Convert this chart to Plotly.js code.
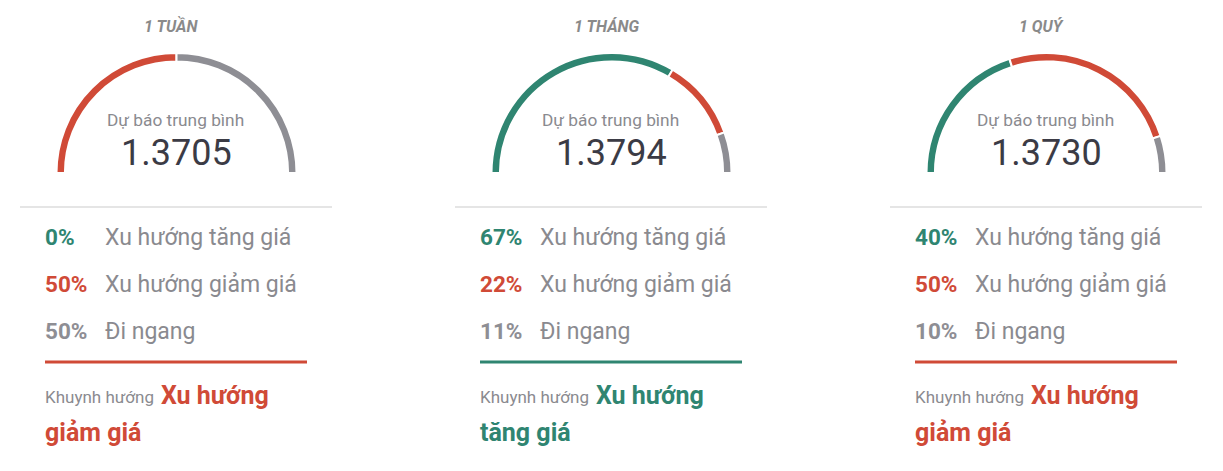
<!DOCTYPE html>
<html>
<head>
<meta charset="utf-8">
<script src="https://cdn.plot.ly/plotly-3.0.1.min.js"></script>
<style>
body { margin: 0; background: #fff; }
#forecast_graph { width: 1223px; height: 471px; }
</style>
</head>
<body>
<div id="forecast_graph"></div>
<script>
/* three gauges: share of up / down / flat forecasts per period */

var periods = ['1 TUẦN', '1 THÁNG', '1 QUÝ'];
var forecasts = ['1.3705', '1.3794', '1.3730'];
var upPct = [0, 67, 40];
var downPct = [50, 22, 50];
var flatPct = [50, 11, 10];
var rowLabels = ['Xu hướng tăng giá', 'Xu hướng giảm giá', 'Đi ngang'];
var trendLabels = ['Xu hướng giảm giá', 'Xu hướng tăng giá', 'Xu hướng giảm giá'];
var trendIsUp = [false, true, false];

var W = 1223, H = 471;
var green = '#2f8571', red = '#d04a37', grey = '#8e8e94';
var textGrey = '#8a8a8f';
var font = 'Roboto, "Noto Sans", sans-serif';

var step = 435;       // distance between panels
var cx0 = 176.5;      // gauge centre of first panel
var cy = 173;         // gauge baseline
var radius = 120;

var data = [{ x: [], y: [], type: 'scatter', hoverinfo: 'skip', showlegend: false }];
var annotations = [];
var shapes = [];

function txt(x, y, s, size, color, anchor) {
    return {
	x: x, y: y, xref: 'x', yref: 'y', text: s, showarrow: false,
	xanchor: anchor || 'center', yanchor: 'middle',
	font: { family: font, size: size, color: color }
    };
}

for (var i = 0; i < periods.length; i++) {
    var off = i * step;
    var cx = cx0 + off;
    var total = upPct[i] + downPct[i] + flatPct[i];

    // half doughnut: last (transparent) slice fills the lower half
    data.push({
	type: 'pie',
	values: [upPct[i], downPct[i], flatPct[i], total],
	marker: { colors: [green, red, grey, 'rgba(0,0,0,0)'],
		  line: { color: '#ffffff', width: 2 } },
	hole: 0.93,
	sort: false,
	direction: 'clockwise',
	rotation: -90,
	textinfo: 'none',
	hoverinfo: 'skip',
	showlegend: false,
	domain: { x: [(cx - radius) / W, (cx + radius) / W],
		  y: [(H - cy - radius) / H, (H - cy + radius) / H] }
    });

    annotations.push(txt(cx - 5, 26, '<b><i>' + periods[i] + '</i></b>', 16, '#8a8a8a'));
    annotations.push(txt(cx - 1.5, 120, 'Dự báo trung bình', 17.3, textGrey));
    annotations.push(txt(cx - 0.5, 153, forecasts[i], 36, '#3b3b45'));

    shapes.push({ type: 'line', xref: 'x', yref: 'y', x0: 20 + off, x1: 332 + off, y0: 207, y1: 207,
		  line: { color: '#dddddd', width: 1.5 } });

    var pcts = [upPct[i], downPct[i], flatPct[i]];
    var pcols = [green, red, grey];
    var rowsY = [237, 284, 331];
    for (var r = 0; r < 3; r++) {
	annotations.push(txt(43 + off, rowsY[r], '<b>' + pcts[r] + '%</b>', 22.5, pcols[r], 'left'));
	annotations.push(txt(103 + off, rowsY[r], rowLabels[r], 23, textGrey, 'left'));
    }

    var tcol = trendIsUp[i] ? green : red;
    shapes.push({ type: 'line', xref: 'x', yref: 'y', x0: 45 + off, x1: 307 + off, y0: 362, y1: 362,
		  line: { color: tcol, width: 3 } });

    var words = trendLabels[i].split(' ');
    annotations.push(txt(43 + off, 397, 'Khuynh hướng', 17, textGrey, 'left'));
    annotations.push(txt(159 + off, 395, '<b>' + words.slice(0, 2).join(' ') + '</b>', 25, tcol, 'left'));
    annotations.push(txt(43 + off, 432, '<b>' + words.slice(2).join(' ') + '</b>', 25, tcol, 'left'));
}

var layout = {
    width: W,
    height: H,
    margin: { l: 0, r: 0, t: 0, b: 0 },
    paper_bgcolor: '#ffffff',
    plot_bgcolor: '#ffffff',
    xaxis: { range: [0, W], visible: false, fixedrange: true },
    yaxis: { range: [H, 0], visible: false, fixedrange: true },
    annotations: annotations,
    shapes: shapes,
    showlegend: false
};

Plotly.newPlot('forecast_graph', data, layout, { displayModeBar: false, staticPlot: true });
</script>
</body>
</html>
